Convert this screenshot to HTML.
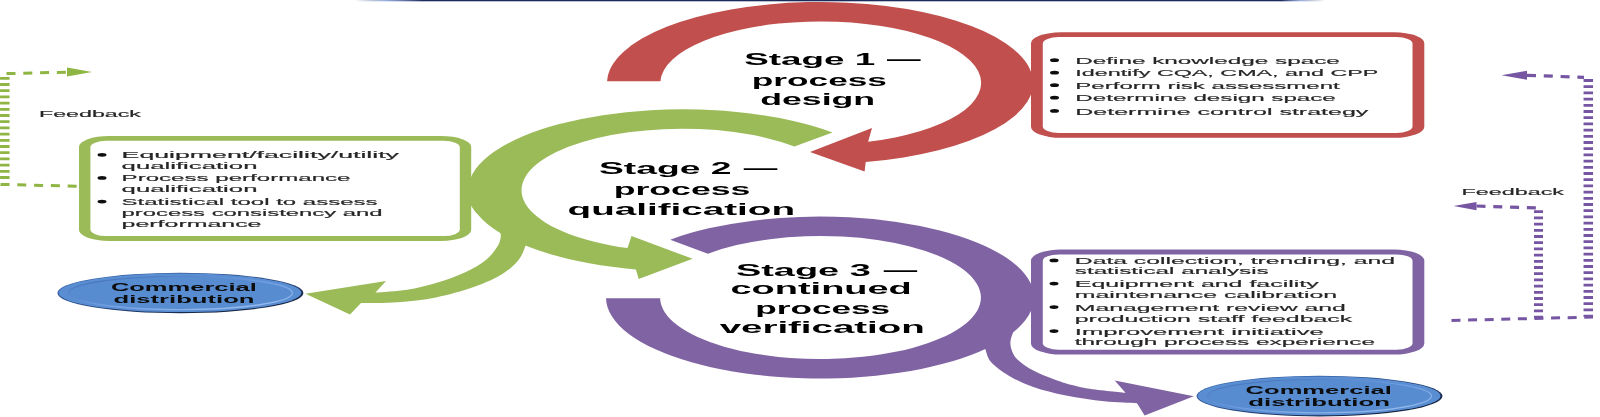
<!DOCTYPE html>
<html><head><meta charset="utf-8"><title>Process validation stages</title>
<style>
html,body{margin:0;padding:0;background:#fff;}
body{width:1600px;height:417px;overflow:hidden;}
svg{display:block;font-family:"Liberation Sans",sans-serif;}
</style></head><body>
<svg width="1600" height="417" viewBox="0 0 1600 417">
<defs>
<linearGradient id="topg" x1="0" x2="1" y1="0" y2="0">
<stop offset="0" stop-color="#1f2a5c" stop-opacity="0"/>
<stop offset="0.03" stop-color="#5b7fc8" stop-opacity="0.6"/>
<stop offset="0.07" stop-color="#1f2a5c" stop-opacity="1"/>
<stop offset="0.955" stop-color="#1f2a5c" stop-opacity="1"/>
<stop offset="0.975" stop-color="#5b7fc8" stop-opacity="0.6"/>
<stop offset="1" stop-color="#1f2a5c" stop-opacity="0"/>
</linearGradient>
<linearGradient id="edge" x1="0" x2="1" y1="0" y2="1">
<stop offset="0" stop-color="#3f6fb8"/><stop offset="0.45" stop-color="#2a4a86"/><stop offset="1" stop-color="#0b1224"/>
</linearGradient>
<linearGradient id="bev" x1="0" x2="1" y1="0" y2="1">
<stop offset="0" stop-color="#3d6cb4"/><stop offset="0.5" stop-color="#6d9ce0"/><stop offset="1" stop-color="#a4c4f0"/>
</linearGradient>
<filter id="soft" x="0" y="0" width="1600" height="417" filterUnits="userSpaceOnUse"><feGaussianBlur stdDeviation="0.55 0.3"/></filter>
</defs>
<rect width="1600" height="417" fill="#fff"/>
<g filter="url(#soft)">
<rect x="355" y="0" width="970" height="1.3" fill="url(#topg)"/>
<rect x="1031.0" y="32.3" width="393.3" height="105.5" rx="30" ry="11" fill="#C0504D"/><rect x="1042.8" y="37.1" width="369.7" height="95.9" rx="16.0" ry="6.5" fill="#fff"/>
<rect x="1031.0" y="249.6" width="393.3" height="104.9" rx="30" ry="11" fill="#8064A2"/><rect x="1042.8" y="254.4" width="369.7" height="95.3" rx="16.0" ry="6.5" fill="#fff"/>
<rect x="79.0" y="136.0" width="392.2" height="104.9" rx="30" ry="11" fill="#9BBB59"/><rect x="90.4" y="140.8" width="369.4" height="95.3" rx="16.0" ry="6.5" fill="#fff"/>
<path d="M 469.0,202.0 C 469.8,203.3 472.3,207.8 474.0,210.0 C 475.7,212.2 476.6,213.2 479.0,215.0 C 481.4,216.8 485.8,219.0 488.6,220.8 C 491.4,222.6 494.1,224.2 496.0,226.0 C 497.9,227.8 499.2,229.5 500.0,231.5 C 500.8,233.5 501.0,235.5 500.6,238.0 C 500.2,240.5 499.8,242.8 497.4,246.5 C 494.9,250.2 491.3,255.7 485.9,260.0 C 480.5,264.3 473.1,268.6 464.8,272.4 C 456.5,276.2 445.6,280.1 436.0,283.0 C 426.4,285.9 417.3,288.1 407.2,289.7 C 397.1,291.3 380.8,292.1 375.5,292.6 L 386,281 L 305.5,293.8 L 350,314.5 L 361.0,303.1 C 367.1,303.0 385.1,303.1 397.6,302.2 C 410.1,301.2 423.2,300.0 436.0,297.4 C 448.8,294.8 463.2,290.8 474.4,286.8 C 485.6,282.8 495.8,277.9 503.1,273.4 C 510.5,268.9 514.8,264.5 518.5,260.0 C 522.2,255.5 523.6,250.7 525.2,246.5 C 526.8,242.3 527.5,236.9 528.0,235.0 L 520,200 Z" fill="#9BBB59"/>
<path d="M 832.5,132.4 A 214.5 81.0 0 1 0 635.9,269.4 L 638.7,279 L 692.6,258.8 L 631.5,236 L 627.5,248.1 A 160.4 61.5 0 1 1 794.4,146.4 Z" fill="#9BBB59"/>
<path d="M 1030.0,310.0 C 1028.5,311.8 1023.6,317.8 1021.0,321.0 C 1018.4,324.2 1016.2,326.2 1014.5,329.5 C 1012.8,332.8 1010.9,337.4 1010.5,341.0 C 1010.1,344.6 1010.8,347.8 1012.0,351.0 C 1013.2,354.2 1014.5,356.7 1018.0,360.0 C 1021.5,363.3 1026.9,367.2 1033.3,370.6 C 1039.7,374.0 1047.8,377.3 1056.4,380.2 C 1065.0,383.1 1073.5,385.8 1085.0,387.9 C 1096.5,390.0 1118.8,391.9 1125.5,392.7 L 1114.7,380.5 L 1193.8,396.2 L 1144.6,415.5 L 1137.0,403.2 C 1131.5,402.9 1116.1,402.6 1104.3,401.3 C 1092.5,400.0 1077.8,397.9 1066.0,395.5 C 1054.2,393.1 1042.9,390.4 1033.3,387.0 C 1023.7,383.6 1015.4,379.6 1008.4,375.4 C 1001.4,371.2 994.8,366.3 991.0,362.0 C 987.2,357.7 987.1,354.0 985.4,349.5 C 983.7,345.0 981.7,337.4 981.0,335.0 L 990,305 Z" fill="#8064A2"/>
<path d="M 670.2,239.7 A 214.0 81.0 0 1 1 606.0,298.3 L 660.1,298.3 A 160.4 61.5 0 1 0 707.9,253.7 Z" fill="#8064A2"/>
<path d="M 607.1,81.3 A 213.0 81.0 0 1 1 865.7,162.1 L 864.6,171.4 L 810,152 L 872,128 L 868.1,141.7 A 160.4 61.5 0 1 0 660.4,81.3 Z" fill="#C0504D"/>
<text x="744.2" y="64.9" font-size="16.50" font-weight="bold" text-anchor="start" fill="#000" textLength="131.0" lengthAdjust="spacingAndGlyphs">Stage 1</text><text x="887.0" y="64.9" font-size="16.50" font-weight="bold" text-anchor="start" fill="#000" textLength="33.6" lengthAdjust="spacingAndGlyphs">—</text><text x="751.8" y="85.7" font-size="16.50" font-weight="bold" text-anchor="start" fill="#000" textLength="135.2" lengthAdjust="spacingAndGlyphs">process</text><text x="760.2" y="104.7" font-size="16.50" font-weight="bold" text-anchor="start" fill="#000" textLength="115.0" lengthAdjust="spacingAndGlyphs">design</text>
<text x="598.9" y="174.4" font-size="16.50" font-weight="bold" text-anchor="start" fill="#000" textLength="132.6" lengthAdjust="spacingAndGlyphs">Stage 2</text><text x="743.8" y="174.4" font-size="16.50" font-weight="bold" text-anchor="start" fill="#000" textLength="33.6" lengthAdjust="spacingAndGlyphs">—</text><text x="613.7" y="195.0" font-size="16.50" font-weight="bold" text-anchor="start" fill="#000" textLength="136.8" lengthAdjust="spacingAndGlyphs">process</text><text x="567.6" y="214.6" font-size="16.50" font-weight="bold" text-anchor="start" fill="#000" textLength="227.4" lengthAdjust="spacingAndGlyphs">qualification</text>
<text x="735.9" y="275.5" font-size="16.50" font-weight="bold" text-anchor="start" fill="#000" textLength="134.9" lengthAdjust="spacingAndGlyphs">Stage 3</text><text x="883.8" y="275.5" font-size="16.50" font-weight="bold" text-anchor="start" fill="#000" textLength="33.4" lengthAdjust="spacingAndGlyphs">—</text><text x="730.5" y="293.9" font-size="16.50" font-weight="bold" text-anchor="start" fill="#000" textLength="181.3" lengthAdjust="spacingAndGlyphs">continued</text><text x="755.3" y="313.7" font-size="16.50" font-weight="bold" text-anchor="start" fill="#000" textLength="134.9" lengthAdjust="spacingAndGlyphs">process</text><text x="719.7" y="333.1" font-size="16.50" font-weight="bold" text-anchor="start" fill="#000" textLength="205.1" lengthAdjust="spacingAndGlyphs">verification</text>
<ellipse cx="1054.5" cy="60.2" rx="4.5" ry="1.9" fill="#111"/>
<text x="1075.3" y="63.8" font-size="9.20" font-weight="normal" text-anchor="start" fill="#262626" stroke="#262626" stroke-width="0.16" textLength="264.5" lengthAdjust="spacingAndGlyphs">Define knowledge space</text>
<ellipse cx="1054.5" cy="72.7" rx="4.5" ry="1.9" fill="#111"/>
<text x="1075.3" y="76.3" font-size="9.20" font-weight="normal" text-anchor="start" fill="#262626" stroke="#262626" stroke-width="0.16" textLength="303.0" lengthAdjust="spacingAndGlyphs">Identify CQA, CMA, and CPP</text>
<ellipse cx="1054.5" cy="85.2" rx="4.5" ry="1.9" fill="#111"/>
<text x="1075.3" y="88.8" font-size="9.20" font-weight="normal" text-anchor="start" fill="#262626" stroke="#262626" stroke-width="0.16" textLength="264.5" lengthAdjust="spacingAndGlyphs">Perform risk assessment</text>
<ellipse cx="1054.5" cy="97.7" rx="4.5" ry="1.9" fill="#111"/>
<text x="1075.3" y="101.3" font-size="9.20" font-weight="normal" text-anchor="start" fill="#262626" stroke="#262626" stroke-width="0.16" textLength="260.5" lengthAdjust="spacingAndGlyphs">Determine design space</text>
<ellipse cx="1054.5" cy="110.9" rx="4.5" ry="1.9" fill="#111"/>
<text x="1075.3" y="114.5" font-size="9.20" font-weight="normal" text-anchor="start" fill="#262626" stroke="#262626" stroke-width="0.16" textLength="293.0" lengthAdjust="spacingAndGlyphs">Determine control strategy</text>
<ellipse cx="1054.0" cy="260.4" rx="4.5" ry="1.9" fill="#111"/>
<text x="1074.8" y="264.0" font-size="9.20" font-weight="normal" text-anchor="start" fill="#262626" stroke="#262626" stroke-width="0.16" textLength="320.2" lengthAdjust="spacingAndGlyphs">Data collection, trending, and</text>
<text x="1074.8" y="274.4" font-size="9.20" font-weight="normal" text-anchor="start" fill="#262626" stroke="#262626" stroke-width="0.16" textLength="193.9" lengthAdjust="spacingAndGlyphs">statistical analysis</text>
<ellipse cx="1054.0" cy="283.6" rx="4.5" ry="1.9" fill="#111"/>
<text x="1074.8" y="287.2" font-size="9.20" font-weight="normal" text-anchor="start" fill="#262626" stroke="#262626" stroke-width="0.16" textLength="243.9" lengthAdjust="spacingAndGlyphs">Equipment and facility</text>
<text x="1074.8" y="298.0" font-size="9.20" font-weight="normal" text-anchor="start" fill="#262626" stroke="#262626" stroke-width="0.16" textLength="262.4" lengthAdjust="spacingAndGlyphs">maintenance calibration</text>
<ellipse cx="1054.0" cy="307.1" rx="4.5" ry="1.9" fill="#111"/>
<text x="1074.8" y="310.7" font-size="9.20" font-weight="normal" text-anchor="start" fill="#262626" stroke="#262626" stroke-width="0.16" textLength="270.9" lengthAdjust="spacingAndGlyphs">Management review and</text>
<text x="1074.8" y="321.5" font-size="9.20" font-weight="normal" text-anchor="start" fill="#262626" stroke="#262626" stroke-width="0.16" textLength="277.4" lengthAdjust="spacingAndGlyphs">production staff feedback</text>
<ellipse cx="1054.0" cy="331.1" rx="4.5" ry="1.9" fill="#111"/>
<text x="1074.8" y="334.7" font-size="9.20" font-weight="normal" text-anchor="start" fill="#262626" stroke="#262626" stroke-width="0.16" textLength="248.9" lengthAdjust="spacingAndGlyphs">Improvement initiative</text>
<text x="1074.8" y="345.0" font-size="9.20" font-weight="normal" text-anchor="start" fill="#262626" stroke="#262626" stroke-width="0.16" textLength="300.2" lengthAdjust="spacingAndGlyphs">through process experience</text>
<ellipse cx="102.0" cy="154.8" rx="4.5" ry="1.9" fill="#111"/>
<text x="121.6" y="158.2" font-size="9.20" font-weight="normal" text-anchor="start" fill="#262626" stroke="#262626" stroke-width="0.16" textLength="277.4" lengthAdjust="spacingAndGlyphs">Equipment/facility/utility</text>
<text x="121.6" y="168.6" font-size="9.20" font-weight="normal" text-anchor="start" fill="#262626" stroke="#262626" stroke-width="0.16" textLength="135.9" lengthAdjust="spacingAndGlyphs">qualification</text>
<ellipse cx="102.0" cy="177.9" rx="4.5" ry="1.9" fill="#111"/>
<text x="121.6" y="181.3" font-size="9.20" font-weight="normal" text-anchor="start" fill="#262626" stroke="#262626" stroke-width="0.16" textLength="228.9" lengthAdjust="spacingAndGlyphs">Process performance</text>
<text x="121.6" y="192.4" font-size="9.20" font-weight="normal" text-anchor="start" fill="#262626" stroke="#262626" stroke-width="0.16" textLength="135.9" lengthAdjust="spacingAndGlyphs">qualification</text>
<ellipse cx="102.0" cy="201.6" rx="4.5" ry="1.9" fill="#111"/>
<text x="121.6" y="205.0" font-size="9.20" font-weight="normal" text-anchor="start" fill="#262626" stroke="#262626" stroke-width="0.16" textLength="255.9" lengthAdjust="spacingAndGlyphs">Statistical tool to assess</text>
<text x="121.6" y="216.0" font-size="9.20" font-weight="normal" text-anchor="start" fill="#262626" stroke="#262626" stroke-width="0.16" textLength="260.9" lengthAdjust="spacingAndGlyphs">process consistency and</text>
<text x="121.6" y="227.0" font-size="9.20" font-weight="normal" text-anchor="start" fill="#262626" stroke="#262626" stroke-width="0.16" textLength="139.9" lengthAdjust="spacingAndGlyphs">performance</text>
<text x="39.0" y="117.0" font-size="9.20" font-weight="normal" text-anchor="start" fill="#262626" stroke="#262626" stroke-width="0.16" textLength="102.0" lengthAdjust="spacingAndGlyphs">Feedback</text>
<text x="1461.5" y="194.5" font-size="9.20" font-weight="normal" text-anchor="start" fill="#262626" stroke="#262626" stroke-width="0.16" textLength="102.5" lengthAdjust="spacingAndGlyphs">Feedback</text>
<ellipse cx="180.4" cy="293.0" rx="123.0" ry="20.2" fill="url(#edge)"/><ellipse cx="180.0" cy="292.8" rx="121.4" ry="19.3" fill="#5a8ed3"/><ellipse cx="180.4" cy="293.0" rx="112.0" ry="16.6" fill="#588cd0" stroke="url(#bev)" stroke-width="1.3"/>
<text x="110.9" y="290.5" font-size="11.20" font-weight="bold" text-anchor="start" fill="#0a0a0a" textLength="146.0" lengthAdjust="spacingAndGlyphs">Commercial</text>
<text x="113.5" y="303.2" font-size="11.20" font-weight="bold" text-anchor="start" fill="#0a0a0a" textLength="141.0" lengthAdjust="spacingAndGlyphs">distribution</text>
<ellipse cx="1319.5" cy="396.1" rx="123.0" ry="20.3" fill="url(#edge)"/><ellipse cx="1319.1" cy="395.9" rx="121.4" ry="19.4" fill="#5a8ed3"/><ellipse cx="1319.5" cy="396.1" rx="112.0" ry="16.7" fill="#588cd0" stroke="url(#bev)" stroke-width="1.3"/>
<text x="1245.6" y="393.6" font-size="11.20" font-weight="bold" text-anchor="start" fill="#0a0a0a" textLength="146.2" lengthAdjust="spacingAndGlyphs">Commercial</text>
<text x="1248.3" y="406.0" font-size="11.20" font-weight="bold" text-anchor="start" fill="#0a0a0a" textLength="141.7" lengthAdjust="spacingAndGlyphs">distribution</text>
<path d="M4.8,76.9 L4.8,182" stroke="#8FB544" stroke-width="9.5" stroke-dasharray="2.8 3.4" fill="none"/>
<path d="M6.5,73.6 L67,72.2" stroke="#8FB544" stroke-width="3" stroke-dasharray="9 7.8" fill="none"/>
<path d="M67,67.6 L92,72 L67,76.4 Z" fill="#8FB544"/>
<path d="M0,184.4 L79,186.2" stroke="#8FB544" stroke-width="3" stroke-dasharray="9 7.8" stroke-dashoffset="-0.5" fill="none"/>
<path d="M1588.3,79.1 L1588.3,317" stroke="#7656A3" stroke-width="9.5" stroke-dasharray="2.8 3.4" fill="none"/>
<path d="M1527,75.3 L1584,77.3" stroke="#7656A3" stroke-width="3.2" stroke-dasharray="9 7.8" fill="none"/>
<path d="M1527,70.8 L1501.5,75.3 L1527,79.8 Z" fill="#7656A3"/>
<path d="M1538.5,210.3 L1538.5,319.5" stroke="#7656A3" stroke-width="9" stroke-dasharray="2.8 3.4" fill="none"/>
<path d="M1476.5,206 L1537,207.9" stroke="#7656A3" stroke-width="3.2" stroke-dasharray="9 7.8" fill="none"/>
<path d="M1476.5,202 L1453.5,206 L1476.5,210.2 Z" fill="#7656A3"/>
<path d="M1451.5,320.5 L1593,317" stroke="#7656A3" stroke-width="3" stroke-dasharray="9 7.6" fill="none"/>
</g>
</svg>
</body></html>
